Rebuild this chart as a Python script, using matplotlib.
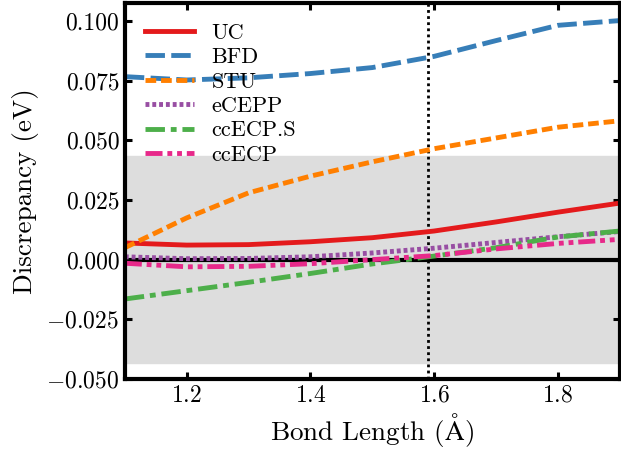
import matplotlib
matplotlib.use('Agg')
import matplotlib.pyplot as plt
import numpy as np

plt.rcParams.update({
    'font.family': 'serif',
    'font.serif': ['cmr10'],
    'mathtext.fontset': 'cm',
    'axes.formatter.use_mathtext': True,
    'axes.unicode_minus': True,
})

# bond lengths (Angstrom)
bond = [1.1, 1.2, 1.3, 1.4, 1.5, 1.6, 1.7, 1.8, 1.9]

# discrepancies (eV)
uc = [0.0070, 0.0061, 0.0063, 0.0075, 0.0092, 0.0120, 0.0158, 0.0199, 0.0237]
bfd = [0.0767, 0.0753, 0.0762, 0.0780, 0.0805, 0.0852, 0.0918, 0.0982, 0.1002]
stu = [0.0050, 0.0175, 0.0280, 0.0350, 0.0410, 0.0465, 0.0510, 0.0555, 0.0582]
ecepp = [0.0012, 0.0004, 0.0005, 0.0012, 0.0028, 0.0048, 0.0072, 0.0096, 0.0118]
ccecp_s = [-0.0165, -0.0130, -0.0095, -0.0058, -0.0018, 0.0015, 0.0050, 0.0095, 0.0120]
ccecp = [-0.0015, -0.0030, -0.0028, -0.0017, 0.0000, 0.0017, 0.0045, 0.0068, 0.0085]

chem_acc = 0.0434
r_eq = 1.59

fig = plt.figure(figsize=(6.21, 4.49), dpi=100)
ax = fig.add_axes([0.201, 0.156, 0.797, 0.837])

ax.axhspan(-chem_acc, chem_acc, color='#dddddd', zorder=0)
ax.axhline(0, color='black', lw=3, zorder=1)
ax.axvline(r_eq, color='black', ls=(0, (1, 1.2)), lw=2, zorder=1)

lw = 3.5
ax.plot(bond, uc, color='#e41a1c', lw=lw, label='UC')
ax.plot(bond, bfd, color='#377eb8', lw=lw, dashes=(4, 1.3), label='BFD')
ax.plot(bond, stu, color='#ff7f00', lw=lw, dashes=(2.2, 1.0), label='STU')
ax.plot(bond, ecepp, color='#984ea3', lw=lw, dashes=(0.8, 0.6), label='eCEPP')
ax.plot(bond, ccecp_s, color='#4daf4a', lw=lw, dashes=(4, 1.2, 1.2, 1.2), label='ccECP.S')
ax.plot(bond, ccecp, color='#e7298a', lw=lw, dashes=(3.5, 1.0, 1.0, 1.0, 1.0, 1.0), label='ccECP')

ax.set_xlim(1.1, 1.9)
ax.set_ylim(-0.05, 0.1075)
ax.set_xticks([1.2, 1.4, 1.6, 1.8])
ax.set_yticks([-0.05, -0.025, 0, 0.025, 0.05, 0.075, 0.1])
ax.yaxis.set_major_formatter(matplotlib.ticker.FuncFormatter(
    lambda v, p: ('$-$' if v < -1e-9 else '') + f'{abs(v):.3f}'))

ax.tick_params(direction='in', top=True, right=True, length=5, width=2.2,
               labelsize=17, pad=4)
for s in ax.spines.values():
    s.set_linewidth(3)

ax.set_xlabel(r'Bond Length ($\mathrm{\AA}$)', fontsize=19.5, labelpad=3)
ax.set_ylabel('Discrepancy (eV)', fontsize=19.5, labelpad=5)

ax.legend(loc='upper left', frameon=False, fontsize=16, handlelength=2.2,
          handletextpad=0.8, labelspacing=0.22, borderaxespad=0.5)

fig.savefig('out.png', dpi=100)
